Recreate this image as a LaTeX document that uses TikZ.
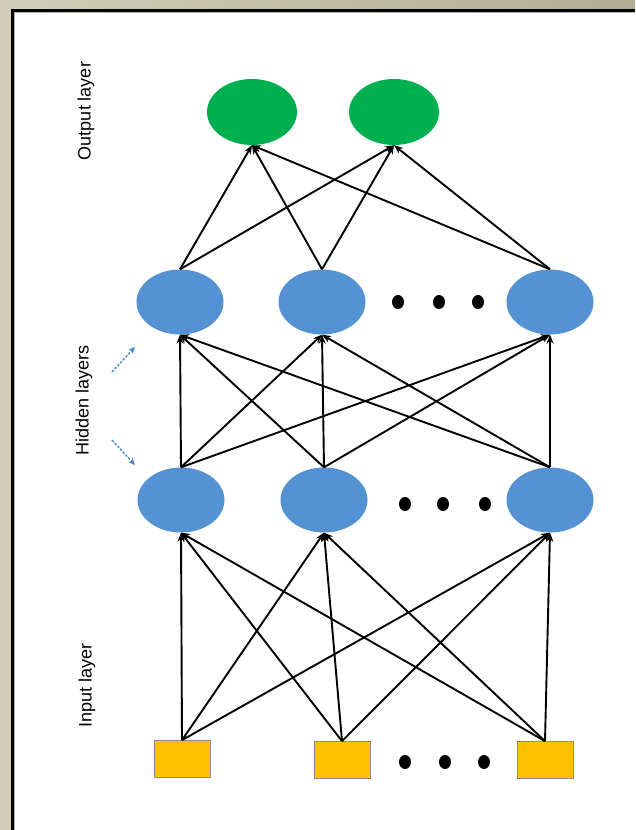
\documentclass[tikz,border=0pt]{standalone}
\usepackage{fontspec}
\setmainfont{Liberation Sans}
\usetikzlibrary{shapes.geometric,arrows.meta}
\definecolor{bgbeige}{HTML}{D3CEB7}
\definecolor{bgbeigedark}{HTML}{B3AD96}
\definecolor{outgreen}{HTML}{00B050}
\definecolor{hidblue}{HTML}{5592D4}
\definecolor{inyellow}{HTML}{FFC000}
\definecolor{inborder}{HTML}{8C8C8C}
\definecolor{arrowblue}{HTML}{4A86C8}
\tikzset{
  outnode/.style={ellipse, fill=outgreen, minimum width=90pt, minimum height=66pt, inner sep=0pt},
  hidnode/.style={ellipse, fill=hidblue, minimum width=87pt, minimum height=65pt, inner sep=0pt},
  innode/.style={rectangle, fill=inyellow, draw=inborder, line width=0.8pt, minimum width=56pt, minimum height=37pt, inner sep=0pt},
  dotnode/.style={ellipse, fill=black, minimum width=12pt, minimum height=14pt, inner sep=0pt},
  conn/.style={line width=1.9pt, black, -{Stealth[length=9pt,width=7pt]}},
  lbl/.style={rotate=90, font=\fontsize{18}{20}\selectfont, inner sep=0pt},
  hint/.style={arrowblue, line width=1.4pt, dashed, dash pattern=on 2.5pt off 1.5pt, -{Stealth[length=7pt,width=6pt]}}
}
\begin{document}
\begin{tikzpicture}[x=1pt,y=-1pt]
\useasboundingbox (0,0) rectangle (635,830);
% background
\shade[left color=bgbeige, right color=bgbeigedark] (0,0) rectangle (635,10);
\fill[bgbeige] (0,0) rectangle (12,830);
\fill[white] (12,10) rectangle (635,830);
\draw[black, line width=2.5pt] (12.5,830) -- (12.5,10.5) -- (635,10.5);
\draw[gray!60, line width=1pt] (14.5,830) -- (14.5,12.5) -- (635,12.5);

% output layer
\node[outnode] (o1) at (252,112) {};
\node[outnode] (o2) at (394,112) {};
% hidden layer (upper)
\node[hidnode] (ha) at (180,302) {};
\node[hidnode] (hb) at (322,302) {};
\node[hidnode] (hc) at (550,302) {};
\node[dotnode] (hd1) at (398,302) {};
\node[dotnode] (hd2) at (439,302) {};
\node[dotnode] (hd3) at (478,302) {};
% hidden layer (lower)
\node[hidnode] (ga) at (181,500) {};
\node[hidnode] (gb) at (324,500) {};
\node[hidnode] (gc) at (550,500) {};
\node[dotnode] (gd1) at (405,504) {};
\node[dotnode] (gd2) at (443,504) {};
\node[dotnode] (gd3) at (485,504) {};
% input layer
\node[innode] (ia) at (182,759) {};
\node[innode] (ib) at (342,760) {};
\node[innode] (ic) at (545,760) {};
\node[dotnode] (id1) at (405,762) {};
\node[dotnode] (id2) at (445,762) {};
\node[dotnode] (id3) at (484,762) {};

% connections
\foreach \s in {ha,hb,hc}{
  \foreach \t in {o1,o2}{
    \draw[conn] (\s.north) -- (\t.south);
  }
}
\foreach \s in {ga,gb,gc}{
  \foreach \t in {ha,hb,hc}{
    \draw[conn] (\s.north) -- (\t.south);
  }
}
\foreach \s in {ia,ib,ic}{
  \foreach \t in {ga,gb,gc}{
    \draw[conn] (\s.north) -- (\t.south);
  }
}

% labels
\node[lbl] (lout) at (86,111) {Output layer};
\node[lbl] (lhid) at (84,400) {Hidden layers};
\node[lbl] (lin) at (87,685) {Input layer};

% hint arrows
\coordinate (h1s) at (112,372);
\coordinate (h1e) at (135,347);
\coordinate (h2s) at (112,440);
\coordinate (h2e) at (135,465);
\draw[hint] (h1s) -- (h1e);
\draw[hint] (h2s) -- (h2e);
\end{tikzpicture}
\end{document}
